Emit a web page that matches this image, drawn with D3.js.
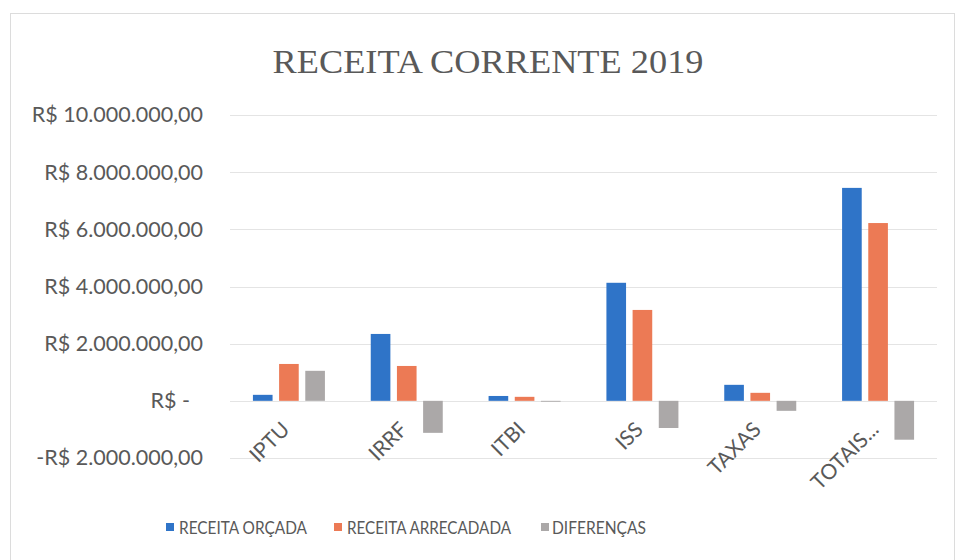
<!DOCTYPE html>
<html>
<head>
<meta charset="utf-8">
<script src="https://cdn.jsdelivr.net/npm/d3@7"></script>
<style>
  body { margin: 0; background: #fff; }
  svg { display: block; }
</style>
</head>
<body>
<div id="chart"></div>
<script>
// data
const categories = ["IPTU", "IRRF", "ITBI", "ISS", "TAXAS", "TOTAIS..."];
const seriesNames = ["RECEITA ORÇADA", "RECEITA ARRECADADA", "DIFERENÇAS"];
const orcada = [210000, 2340000, 170000, 4130000, 560000, 7450000];
const arrecadada = [1290000, 1220000, 140000, 3180000, 280000, 6220000];
const diferencas = [1050000, -1120000, -30000, -950000, -350000, -1360000];
const yTicks = [-2000000, 0, 2000000, 4000000, 6000000, 8000000, 10000000];
const colors = ["#2f74c8", "#ec7a55", "#aba8a8"];

const width = 956, height = 560;
const margin = { top: 115, right: 19, bottom: 102, left: 230 };

const svg = d3.select("#chart").append("svg")
    .attr("width", width)
    .attr("height", height);

// outer frame of the chart object
svg.append("rect")
    .attr("x", 10.5).attr("y", 13.5)
    .attr("width", 944).attr("height", 560)
    .attr("fill", "none")
    .attr("stroke", "#dcdcdc");

svg.append("text")
    .attr("x", 488)
    .attr("y", 73)
    .attr("text-anchor", "middle")
    .attr("font-family", "Liberation Serif, Times New Roman, serif")
    .attr("font-size", 33)
    .attr("textLength", 431)
    .attr("lengthAdjust", "spacingAndGlyphs")
    .attr("fill", "#595959")
    .text("RECEITA CORRENTE 2019");

const x = d3.scaleBand()
    .domain(categories)
    .range([margin.left, width - margin.right]);

const y = d3.scaleLinear()
    .domain([-2000000, 10000000])
    .range([458, 115]);

const fmt = d3.formatLocale({ decimal: ",", thousands: ".", grouping: [3], currency: ["R$ ", ""] });
const money = fmt.format(",.2f");
const tickText = v => v === 0 ? "R$ -" : (v < 0 ? "-R$ " + money(-v) : "R$ " + money(v));

// gridlines
svg.append("g")
    .selectAll("line")
    .data(yTicks)
    .join("line")
    .attr("x1", margin.left)
    .attr("x2", width - margin.right)
    .attr("y1", d => Math.round(y(d)) + 0.5)
    .attr("y2", d => Math.round(y(d)) + 0.5)
    .attr("stroke", "#e4e4e4")
    .attr("stroke-width", 1);

// y axis labels
const yAxis = d3.axisLeft(y).tickValues(yTicks).tickFormat(tickText).tickSize(0).tickPadding(27);
const gy = svg.append("g")
    .attr("transform", `translate(${margin.left},0)`)
    .call(yAxis);
gy.select(".domain").remove();
gy.selectAll("text")
    .attr("font-family", "Lato, Calibri, sans-serif")
    .attr("font-size", 21.5)
    .attr("fill", "#595959")
    .attr("dx", d => d === 0 ? -13 : 0);

// bars
const xs = d3.scaleBand()
    .domain(seriesNames)
    .range([-36, 36])
    .paddingInner(0.25);

const series = [orcada, arrecadada, diferencas];
const rows = categories.map((c, i) => ({ cat: c, vals: series.map((s, k) => ({ key: seriesNames[k], k, v: s[i] })) }));

svg.append("g")
    .selectAll("g")
    .data(rows)
    .join("g")
    .attr("transform", d => `translate(${x(d.cat) + x.bandwidth() / 2},0)`)
    .selectAll("rect")
    .data(d => d.vals)
    .join("rect")
    .attr("x", d => xs(d.key))
    .attr("width", xs.bandwidth())
    .attr("y", d => y(Math.max(0, d.v)))
    .attr("height", d => Math.abs(y(d.v) - y(0)))
    .attr("fill", d => colors[d.k]);

// category labels, rotated like the original
svg.append("g")
    .selectAll("text")
    .data(categories)
    .join("text")
    .attr("transform", d => `translate(${x(d) + x.bandwidth() / 2 + 2},${y(0) + 30}) rotate(-45)`)
    .attr("text-anchor", "end")
    .attr("font-family", "Lato, Calibri, sans-serif")
    .attr("font-size", 21)
    .attr("fill", "#595959")
    .text(d => d);

// legend
const legendX = [166, 334, 541];
const legendW = [128, 164, 94];
const lg = svg.append("g")
    .selectAll("g")
    .data(seriesNames)
    .join("g")
    .attr("transform", (d, i) => `translate(${legendX[i]},527)`);
lg.append("rect")
    .attr("x", 0).attr("y", -4)
    .attr("width", 8).attr("height", 8)
    .attr("fill", (d, i) => colors[i]);
lg.append("text")
    .attr("x", (d, i) => i === 2 ? 11 : 13)
    .attr("y", 6.5)
    .attr("font-family", "Lato, Calibri, sans-serif")
    .attr("font-size", 17.5)
    .attr("textLength", (d, i) => legendW[i])
    .attr("lengthAdjust", "spacingAndGlyphs")
    .attr("fill", "#595959")
    .text(d => d);
</script>
</body>
</html>
